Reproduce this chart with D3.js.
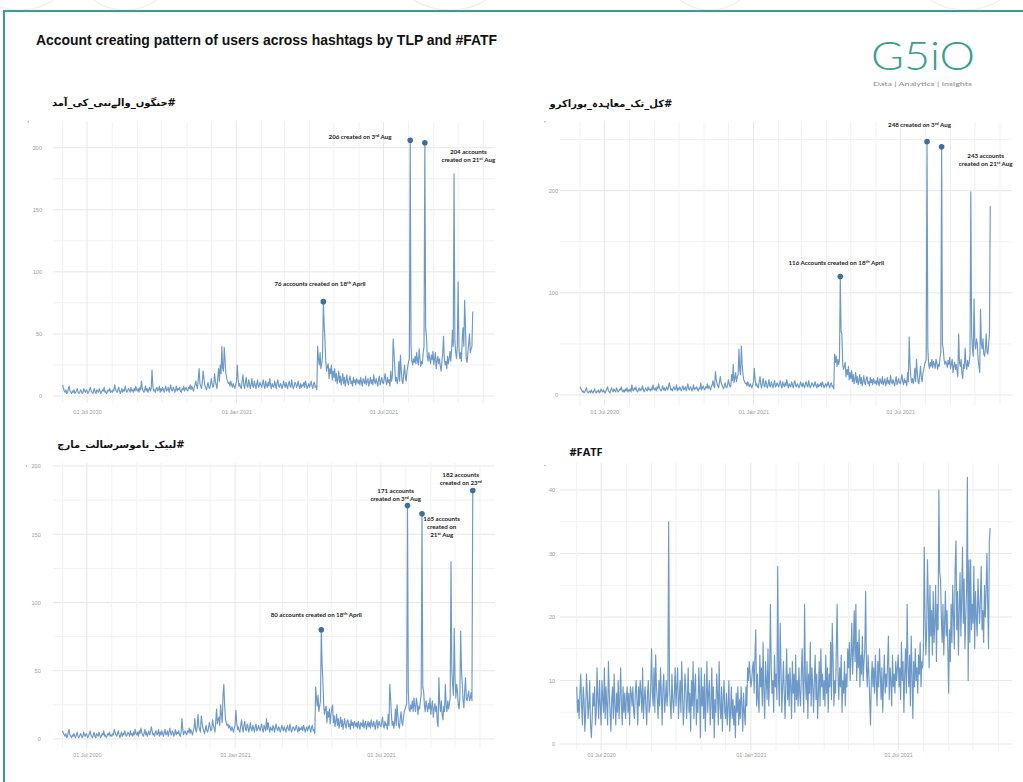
<!DOCTYPE html>
<html>
<head>
<meta charset="utf-8">
<script src="https://cdn.jsdelivr.net/npm/d3@7"></script>
<style>
  html, body { margin: 0; padding: 0; background: #ffffff; }
  svg { display: block; }
</style>
</head>
<body>
<svg id="chart" width="1023" height="782"></svg>
<script>
// ---------------------------------------------------------------------------
// Data: daily counts of newly created accounts, one inner array per month
// ---------------------------------------------------------------------------
const months = ["2020-06","2020-07","2020-08","2020-09","2020-10","2020-11","2020-12",
                "2021-01","2021-02","2021-03","2021-04","2021-05","2021-06","2021-07",
                "2021-08","2021-09","2021-10"];

const chartTitle = "Account creating pattern of users across hashtags by TLP and #FATF";
const panelTitles = ["#جنگوں_والےنبی_کی_آمد", "#کل_تک_معاہدہ_پوراکرو", "#لبیک_ناموسرسالت_مارچ", "#FATF"];

const xTickDates = ["2020-07-01", "2021-01-01", "2021-07-01"];
const xTickLabels = ["01 Jul 2020", "01 Jan 2021", "01 Jul 2021"];

const yTicksA = [0, 50, 100, 150, 200];
const yTicksB = [0, 100, 200];
const yTicksC = [0, 50, 100, 150, 200];
const yTicksD = [0, 10, 20, 30, 40];

const countsA = [
  [9,6,4,3,5,2,3,6,8,4,3,2,4,3,5,2,3,4,6,3,2,3,5,4,2,3,6,4,3,5],
  [4,2,3,5,7,4,3,2,4,6,3,2,5,4,3,6,4,2,3,5,4,7,3,4,2,3,5,4,6,3,4],
  [3,5,4,9,6,4,3,5,7,4,2,4,6,3,5,4,8,5,3,4,6,5,3,7,4,5,3,6,4,8,5],
  [4,6,3,7,5,12,6,4,3,5,8,4,6,3,5,7,4,6,21,8,4,5,3,6,7,4,5,8,3,6],
  [4,7,5,3,6,8,4,5,7,3,6,9,5,4,7,6,3,5,8,4,6,5,7,4,3,6,5,8,4,6,7],
  [5,4,7,6,9,5,8,6,4,7,9,12,8,6,14,22,10,8,6,12,20,14,9,7,5,8,11,7,6,9],
  [14,10,7,8,18,12,9,6,15,22,12,25,18,40,22,20,39,28,18,14,12,10,11,8,12,9,7,10,8,6,9],
  [12,25,14,8,10,7,6,12,17,9,6,11,15,8,7,13,10,6,9,14,8,7,12,9,6,10,13,7,8,11,9],
  [7,10,13,8,6,12,9,7,11,8,14,9,6,10,8,7,12,9,6,11,13,8,7,10,9,6,8,12],
  [9,7,11,8,6,10,12,8,7,13,9,6,8,11,10,7,9,12,8,6,10,7,9,8,11,7,12,9,6,8,10],
  [7,9,12,8,6,10,11,7,8,5,40,30,25,35,22,26,32,76,58,45,28,20,24,26,14,22,18,25,13,20],
  [15,22,12,18,10,14,20,11,16,9,13,18,10,15,8,12,17,11,9,14,16,10,12,8,15,11,13,9,14,12,10],
  [13,9,15,11,8,14,12,10,16,9,12,14,8,11,15,10,13,9,17,12,10,14,11,8,13,16,9,12,15,11],
  [10,14,18,12,9,15,11,13,8,20,12,16,46,35,22,12,15,10,14,28,12,33,20,12,10,18,25,15,12,20,24],
  [28,30,206,40,28,25,30,27,32,26,35,28,25,38,30,24,28,26,35,40,204,55,48,32,28,35,30,26,33,29,36],
  [25,30,35,22,28,32,26,30,24,20,28,34,48,30,25,28,22,32,26,30,36,28,38,53,40,179,45,35,30,40],
  [92,40,30,35,28,45,55,40,77,57,30,27,35,42,50,35,38,40,68]
];

const countsB = [
  [8,6,5,3,4,2,3,5,7,3,2,3,4,2,5,3,2,4,6,3,2,4,3,5,2,3,6,4,3,5],
  [3,2,4,6,8,4,3,2,5,7,4,3,6,4,3,7,5,3,4,6,5,8,4,3,5,3,6,4,7,3,5],
  [4,6,3,10,5,4,7,5,8,4,3,5,7,4,6,5,9,6,3,5,7,5,4,8,5,6,4,7,5,10,6],
  [5,7,4,8,6,11,7,5,4,6,9,5,7,4,6,8,5,7,12,9,5,6,4,7,8,5,6,10,4,7],
  [5,8,6,4,7,9,5,6,8,4,7,11,6,5,8,7,4,6,10,5,7,6,8,5,4,7,6,12,5,7,9],
  [6,5,8,7,11,6,9,7,5,8,10,14,9,7,23,16,11,9,7,13,18,12,10,8,6,9,12,8,7,10],
  [15,11,8,9,20,14,30,12,16,22,13,18,20,45,25,20,48,30,20,15,13,11,12,9,13,10,8,11,9,7,10],
  [13,26,15,9,11,8,7,13,18,10,7,12,16,9,8,14,11,7,10,15,9,8,13,10,7,11,14,8,9,12,10],
  [8,11,14,9,7,13,10,8,12,9,15,10,7,11,9,8,13,10,7,12,14,9,8,11,10,7,9,13],
  [10,8,12,9,7,11,13,9,8,14,10,7,9,12,11,8,10,13,9,7,11,8,10,9,12,8,13,10,7,9,11],
  [8,10,13,9,7,11,12,8,9,6,40,32,38,28,35,30,34,116,62,60,30,25,28,32,18,25,20,28,15,22],
  [16,24,13,20,11,15,22,12,18,10,14,20,11,17,9,13,19,12,10,16,18,11,13,9,17,12,15,10,16,13,11],
  [14,10,17,12,9,16,13,11,18,10,13,16,9,12,17,11,14,10,19,13,11,15,12,9,14,18,10,13,16,12],
  [11,15,20,13,10,16,12,14,9,22,13,57,30,18,12,16,11,15,26,13,35,22,13,11,20,28,16,13,22,25,30],
  [32,35,248,45,30,26,32,28,35,27,33,30,26,35,32,25,30,28,36,42,243,50,45,35,30,33,31,27,34,30,37],
  [26,30,35,22,28,32,25,30,24,18,60,32,28,35,22,16,30,26,46,30,25,34,28,32,40,199,60,45,38,94],
  [50,45,55,50,35,28,22,84,50,45,55,40,38,45,60,42,40,50,60,185]
];

const countsC = [
  [6,4,3,2,4,1,2,5,7,3,2,1,3,2,4,2,1,3,5,2,1,2,4,3,1,2,5,3,2,4],
  [3,1,2,4,6,3,2,1,3,5,2,1,4,3,2,5,3,1,2,4,3,6,2,3,1,2,4,3,5,2,3],
  [2,4,3,7,5,3,2,4,6,3,1,3,5,2,4,3,6,4,2,3,5,4,2,6,3,4,2,5,3,7,4],
  [3,5,2,6,4,8,5,3,2,4,7,3,5,2,4,6,3,5,9,6,3,4,2,5,6,3,4,7,2,5],
  [3,6,4,2,5,7,3,4,6,2,5,8,4,3,6,5,2,4,7,3,5,4,6,3,2,5,15,7,3,5,6],
  [4,3,6,5,8,4,7,5,3,6,8,15,7,5,10,18,9,7,5,17,12,8,6,4,7,10,6,5,8,12],
  [9,6,7,14,10,8,5,13,22,11,14,16,10,25,18,12,32,40,25,15,12,10,11,8,10,8,6,9,7,5,8],
  [10,21,12,7,9,6,5,10,14,8,5,10,13,7,6,11,9,5,8,12,7,6,10,8,5,9,11,6,7,10,8],
  [6,9,11,7,5,10,8,6,15,7,12,8,5,9,7,6,10,8,5,9,11,7,6,9,8,5,7,10],
  [8,6,9,7,5,8,10,7,6,11,8,5,7,9,8,6,8,10,7,5,9,6,8,7,9,6,10,8,5,7,9],
  [6,8,10,7,5,9,10,6,7,4,38,30,24,32,20,24,28,80,55,42,25,18,22,24,12,20,16,22,11,18],
  [22,25,12,17,9,13,18,10,15,8,12,16,9,14,7,11,15,10,8,13,14,9,11,7,14,10,12,8,13,11,9],
  [12,8,13,10,7,12,11,9,14,8,11,13,7,10,13,9,12,8,14,11,9,13,10,7,12,14,8,11,13,10],
  [9,12,16,10,8,13,10,11,7,18,10,40,30,18,10,13,8,12,22,10,25,18,10,8,15,20,12,10,16,20,22],
  [24,26,171,35,22,20,25,22,28,20,30,24,20,30,26,18,24,22,28,32,165,38,35,25,20,28,24,20,26,22,30],
  [18,24,28,16,22,26,20,24,12,9,45,26,20,28,18,14,24,20,40,25,20,28,22,26,30,130,50,40,32,81],
  [45,30,40,35,25,22,30,79,50,40,28,23,35,45,30,28,32,35,28,30,34,28,182]
];

const countsD = [
  [9,5,7,4,8,11,6,3,9,7,2,5,11,8,4,6,10,3,1,4,8,6,9,3,5,12,7,4,10,6],
  [3,10,7,5,12,4,9,6,3,13,8,5,2,7,9,4,11,6,3,8,5,10,4,7,12,6,3,9,5,8,4],
  [7,9,5,8,3,9,8,6,9,5,4,8,10,7,3,9,6,10,8,5,12,4,7,9,6,3,8,10,5,6,9],
  [15,8,6,12,5,14,9,7,4,10,6,12,8,3,9,11,5,7,10,6,8,35,9,6,4,11,7,5,8,12],
  [6,9,12,4,7,10,5,13,8,3,6,11,9,4,7,12,5,8,2,10,6,13,4,9,11,3,7,5,12,8,1],
  [12,6,9,4,11,2,7,13,5,8,10,3,6,12,4,9,1,7,5,11,8,3,13,6,4,9,2,7,10,5],
  [4,8,3,6,10,2,5,9,4,7,3,6,1,8,5,9,3,7,4,9,6,2,8,5,3,9,6,12,10,13,11],
  [9,10,12,13,8,14,18,6,11,7,5,14,9,12,6,16,8,4,13,10,7,15,6,11,22,12,8,10,5,14,9],
  [11,7,28,10,6,19,12,5,9,13,8,4,10,15,7,11,6,12,9,4,13,8,11,5,14,7,10,6],
  [12,8,6,11,15,9,5,22,10,7,13,4,11,8,16,6,12,9,5,10,14,7,11,4,8,13,6,15,9,11,7],
  [10,6,14,8,12,5,11,9,16,7,19,13,6,10,8,15,22,11,7,12,9,14,5,10,8,13,6,11,9,15],
  [12,16,10,14,19,11,15,21,13,22,10,16,12,18,9,14,11,17,10,13,15,24,12,9,14,11,7,3,10,13,9],
  [12,8,14,10,6,13,9,15,11,7,12,5,10,14,8,11,9,13,17,7,12,10,6,14,9,11,8,13,10,12],
  [14,9,12,7,16,10,13,5,11,15,8,22,12,9,14,6,17,11,4,13,9,15,10,12,8,14,11,16,9,13,12],
  [15,31,20,14,18,29,22,12,25,17,21,14,24,16,19,25,13,22,18,40,27,26,20,16,22,14,19,24,17,21,15],
  [8,18,13,22,16,25,20,15,28,32,18,24,14,21,27,17,23,31,19,26,15,20,24,42,10,29,16,29,18,22],
  [19,28,15,24,20,17,26,22,19,23,28,18,21,16,25,20,24,30,22,15,32,34]
];

// Highlighted days; "^..^" marks superscript text
const notesA = [
  { date: "2021-08-03", lines: ["206 created on 3^rd^ Aug"] },
  { date: "2021-08-21", lines: ["204 accounts", "created on 21^st^ Aug"] },
  { date: "2021-04-18", lines: ["76 accounts created on 18^th^ April"] }
];
const notesB = [
  { date: "2021-08-03", lines: ["248 created on 3^rd^ Aug"] },
  { date: "2021-08-21", lines: ["243 accounts", "created on 21^st^ Aug"] },
  { date: "2021-04-18", lines: ["116 Accounts created on 18^th^ April"] }
];
const notesC = [
  { date: "2021-04-18", lines: ["80 accounts created on 18^th^ April"] },
  { date: "2021-08-03", lines: ["171 accounts", "created on 3^rd^ Aug"] },
  { date: "2021-08-21", lines: ["165 accounts", "created on", "21^st^ Aug"] },
  { date: "2021-10-23", lines: ["182 accounts", "created on 23^rd^"] }
];
const notesD = [];

// ---------------------------------------------------------------------------
// Layout
// ---------------------------------------------------------------------------
const layoutA = {
  box: [53, 121.7, 495, 403], xr: [62.7, 483.3], yr: [396, 147.7], yRef: 200, yMinorStep: 25,
  title: { x: 114, y: 106 }, yLabX: 42, xLabY: 413.5, mark: [28.3, 121.7],
  notes: [{ x: 360, y: 139 }, { x: 468.3, y: 153.5 }, { x: 320, y: 285.5 }]
};
const layoutB = {
  box: [560, 121.7, 1011.7, 405], xr: [580, 1000], yr: [395, 190.7], yRef: 200, yMinorStep: 50,
  title: { x: 611, y: 107 }, yLabX: 558, xLabY: 414, mark: [545, 121.7],
  notes: [{ x: 919.5, y: 127 }, { x: 985.7, y: 158 }, { x: 836.3, y: 264.5 }]
};
const layoutC = {
  box: [53, 463, 495, 748], xr: [62.7, 480], yr: [739, 466], yRef: 200, yMinorStep: 25,
  title: { x: 121, y: 448 }, yLabX: 40.7, xLabY: 757, mark: [26.5, 466],
  notes: [{ x: 316.3, y: 616.5 }, { x: 395.7, y: 493 }, { x: 441.7, y: 521 }, { x: 460.7, y: 477 }]
};
const layoutD = {
  box: [560, 463, 1011.7, 750], xr: [576.7, 998.3], yr: [744, 490], yRef: 40, yMinorStep: 5,
  title: { x: 569.5, y: 455.5 }, yLabX: 555, xLabY: 757, mark: [545, 465.5],
  notes: []
};

const panels = [
  { title: panelTitles[0], rtl: true,  counts: countsA, yTicks: yTicksA, notes: notesA, L: layoutA },
  { title: panelTitles[1], rtl: true,  counts: countsB, yTicks: yTicksB, notes: notesB, L: layoutB },
  { title: panelTitles[2], rtl: true,  counts: countsC, yTicks: yTicksC, notes: notesC, L: layoutC },
  { title: panelTitles[3], rtl: false, counts: countsD, yTicks: yTicksD, notes: notesD, L: layoutD }
];

const LINE_COLOR = "#6494c4";
const DOT_COLOR = "#3f6f9f";
const GRID_MAJOR = "#e7e7e7";
const GRID_MINOR = "#f1f1f1";
const TEAL = "#3a9d92";

const svg = d3.select("#chart");
const parseMonth = d3.utcParse("%Y-%m");
const parseDay = d3.utcParse("%Y-%m-%d");
const monthStarts = months.map(parseMonth);
const xStart = parseMonth("2020-06");
const xEnd = parseMonth("2021-11");

// ---------------------------------------------------------------------------
// Page frame, heading and logo
// ---------------------------------------------------------------------------
const deco = svg.append("g").attr("fill", "none").attr("stroke", "#efefef").attr("stroke-width", 1.2);
[[-40, 60], [70, 55], [380, 70], [660, 50], [900, 65]].forEach(([cx, r]) => {
  deco.append("circle").attr("cx", cx + r).attr("cy", -r + 10).attr("r", r);
});

svg.append("path")
  .attr("d", "M4,782 V11 H1023")
  .attr("fill", "none").attr("stroke", TEAL).attr("stroke-width", 2);

svg.append("text")
  .attr("x", 36).attr("y", 45)
  .attr("font-family", "'Liberation Sans Narrow', 'Arial Narrow', 'Liberation Sans', sans-serif")
  .attr("font-weight", "bold").attr("font-size", 15.5)
  .attr("textLength", 461).attr("lengthAdjust", "spacingAndGlyphs")
  .attr("fill", "#111")
  .text(chartTitle);

svg.append("text")
  .attr("x", 871).attr("y", 70)
  .attr("font-family", "Lato, 'Open Sans', sans-serif").attr("font-weight", 300)
  .attr("font-size", 39).attr("fill", TEAL)
  .attr("textLength", 104).attr("lengthAdjust", "spacingAndGlyphs")
  .text("G5iO");
svg.append("text")
  .attr("x", 873).attr("y", 85.5)
  .attr("font-family", "Lato, 'Open Sans', sans-serif").attr("font-size", 6.5)
  .attr("fill", "#8a8a8a")
  .attr("textLength", 99).attr("lengthAdjust", "spacingAndGlyphs")
  .text("Data | Analytics | Insights");

// ---------------------------------------------------------------------------
// Text helper: "^sup^" segments become raised small text
// ---------------------------------------------------------------------------
function writeRich(textSel, str) {
  const parts = str.split("^");
  parts.forEach((p, i) => {
    if (!p) return;
    const sup = i % 2 === 1;
    textSel.append("tspan")
      .attr("font-size", sup ? "70%" : null)
      .attr("dy", sup ? -2 : (i > 0 ? 2 : null))
      .text(p);
  });
}

// ---------------------------------------------------------------------------
// Panels
// ---------------------------------------------------------------------------
panels.forEach(panel => {
  const L = panel.L;
  const [bx0, by0, bx1, by1] = L.box;
  const g = svg.append("g");

  const x = d3.scaleUtc().domain([xStart, xEnd]).range(L.xr);
  const y = d3.scaleLinear().domain([0, L.yRef]).range(L.yr);

  const points = panel.counts.flatMap((vals, m) =>
    vals.map((v, i) => ({ date: d3.utcDay.offset(monthStarts[m], i), value: v })));

  // horizontal grid
  const maxY = y.invert(by0);
  const minorVals = d3.range(0, maxY, L.yMinorStep).filter(v => !panel.yTicks.includes(v));
  g.append("g").selectAll("line").data(minorVals).join("line")
    .attr("x1", bx0).attr("x2", bx1)
    .attr("y1", d => y(d)).attr("y2", d => y(d))
    .attr("stroke", GRID_MINOR).attr("stroke-width", 1);
  g.append("g").selectAll("line").data(panel.yTicks).join("line")
    .attr("x1", bx0).attr("x2", bx1)
    .attr("y1", d => y(d)).attr("y2", d => y(d))
    .attr("stroke", GRID_MAJOR).attr("stroke-width", 1);

  // vertical grid (monthly)
  const majorDates = xTickDates.map(parseDay);
  const monthLines = d3.utcMonth.range(xStart, d3.utcDay.offset(xEnd, 1));
  g.append("g").selectAll("line").data(monthLines).join("line")
    .attr("x1", d => x(d)).attr("x2", d => x(d))
    .attr("y1", by0).attr("y2", by1)
    .attr("stroke", d => majorDates.some(m => +m === +d) ? GRID_MAJOR : GRID_MINOR)
    .attr("stroke-width", 1);

  // axes: tick labels only
  const yAxis = d3.axisLeft(y).tickValues(panel.yTicks).tickSize(0).tickPadding(0);
  const ya = g.append("g").attr("transform", `translate(${L.yLabX},0)`).call(yAxis);
  ya.select(".domain").remove();
  ya.selectAll("text").attr("font-family", "'Liberation Sans', Arial, sans-serif")
    .attr("font-size", 5.5).attr("fill", "#9a9a9a").attr("dy", "0.32em");

  const xAxis = d3.axisBottom(x).tickValues(majorDates)
    .tickFormat((d, i) => xTickLabels[i]).tickSize(0).tickPadding(0);
  const xa = g.append("g").attr("transform", `translate(0,${L.xLabY - 4})`).call(xAxis);
  xa.select(".domain").remove();
  xa.selectAll("text").attr("font-family", "'Liberation Sans', Arial, sans-serif")
    .attr("font-size", 5.5).attr("fill", "#9a9a9a").attr("dy", 0).attr("y", 4);

  g.append("circle").attr("cx", L.mark[0]).attr("cy", L.mark[1]).attr("r", 0.8).attr("fill", "#aaa");

  // series line
  const line = d3.line().x(d => x(d.date)).y(d => y(d.value)).curve(d3.curveLinear);
  g.append("path").datum(points)
    .attr("d", line)
    .attr("fill", "none").attr("stroke", LINE_COLOR)
    .attr("stroke-width", 1.15).attr("stroke-linejoin", "round").attr("opacity", 0.95);

  // highlighted days
  panel.notes.forEach((n, k) => {
    const day = parseDay(n.date);
    const pt = points.find(p => +p.date === +day);
    if (!pt) return;
    g.append("circle")
      .attr("cx", x(pt.date)).attr("cy", y(pt.value)).attr("r", 2.8)
      .attr("fill", DOT_COLOR);
    const pos = L.notes[k];
    n.lines.forEach((ln, j) => {
      const t = g.append("text")
        .attr("x", pos.x).attr("y", pos.y + j * 8.2)
        .attr("text-anchor", "middle")
        .attr("font-family", "Lato, 'Open Sans', sans-serif")
        .attr("font-weight", "bold").attr("font-size", 6.2)
        .attr("fill", "#222");
      writeRich(t, ln);
    });
  });

  // panel title
  if (panel.rtl) {
    g.append("text")
      .attr("x", L.title.x).attr("y", L.title.y)
      .attr("text-anchor", "middle")
      .attr("direction", "rtl")
      .attr("font-family", "'DejaVu Sans', sans-serif")
      .attr("font-weight", "bold").attr("font-size", 10)
      .attr("fill", "#111")
      .text(panel.title);
  } else {
    g.append("text")
      .attr("x", L.title.x).attr("y", L.title.y)
      .attr("font-family", "'Open Sans', 'Liberation Sans', sans-serif")
      .attr("font-weight", "bold").attr("font-size", 11)
      .attr("fill", "#111")
      .text(panel.title);
  }
});
</script>
</body>
</html>
